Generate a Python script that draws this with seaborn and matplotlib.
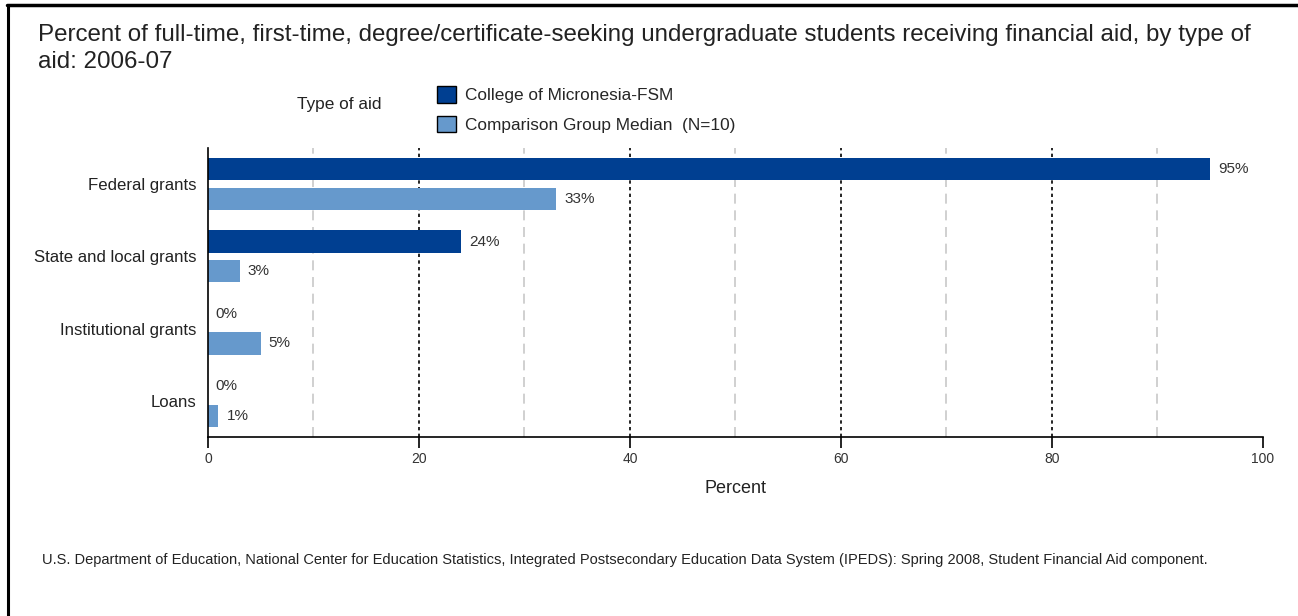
import matplotlib.pyplot as plt
import pandas as pd
import seaborn as sns
from matplotlib.lines import Line2D
from matplotlib.patches import Patch

aid_types = ["Federal grants", "State and local grants", "Institutional grants", "Loans"]
groups = ["College of Micronesia-FSM", "Comparison Group Median  (N=10)"]
college = [95, 24, 0, 0]
comparison = [33, 3, 5, 1]
colors = ["#003f91", "#6699cc"]

title = ("Percent of full-time, first-time, degree/certificate-seeking undergraduate students "
         "receiving financial aid, by type of\naid: 2006-07")
footer = ("U.S. Department of Education, National Center for Education Statistics, Integrated "
          "Postsecondary Education Data System (IPEDS): Spring 2008, Student Financial Aid component.")

df = pd.DataFrame({
    "aid": aid_types * 2,
    "group": [groups[0]] * len(aid_types) + [groups[1]] * len(aid_types),
    "value": college + comparison,
})

sns.set_style("white")
plt.rcParams["font.family"] = ["Liberation Sans", "DejaVu Sans"]

fig = plt.figure(figsize=(12.98, 6.16), dpi=100)
ax = fig.add_axes([0.1602, 0.2906, 0.8128, 0.4691])

sns.barplot(data=df, y="aid", x="value", hue="group", order=aid_types, hue_order=groups,
            palette=colors, orient="h", width=0.82, gap=0.25, legend=False, ax=ax,
            saturation=1, edgecolor="none")

ax.set_xlim(0, 100)
ax.set_ylim(3.5, -0.5)

# grid: dashed grey at odd tens, dotted black at 20s
for v in [10, 30, 50, 70, 90]:
    ax.axvline(v, color="#c8c8c8", lw=1.2, ls=(0, (6, 4)), zorder=0)
for v in [20, 40, 60, 80]:
    ax.axvline(v, color="black", lw=1.2, ls=(0, (2, 2)), zorder=0)

for c in ax.containers:
    for bar in c:
        w = bar.get_width()
        ax.text(w + 0.75, bar.get_y() + bar.get_height() / 2, f"{w:.0f}%",
                va="center", ha="left", fontsize=11, color="#333333")

ax.set_xticks([0, 20, 40, 60, 80, 100])
ax.tick_params(axis="x", length=8, width=1.2, color="black", labelsize=10,
               labelcolor="#333333", pad=3, direction="out", bottom=True)
ax.tick_params(axis="y", length=0, labelsize=12.1, labelcolor="#222222", pad=8)
ax.set_xlabel("Percent", fontsize=13, color="#222222", labelpad=10)
ax.set_ylabel("")

for s in ["top", "right"]:
    ax.spines[s].set_visible(False)
for s in ["left", "bottom"]:
    ax.spines[s].set_color("black")
    ax.spines[s].set_linewidth(1.2)

fig.text(38 / 1298, 1 - 24 / 616, title, fontsize=17.4, va="top", ha="left",
         color="#222222", linespacing=1.3)

fig.text(297 / 1298, 1 - 104 / 616, "Type of aid", fontsize=12.4, va="center",
         ha="left", color="#222222")
handles = [Patch(facecolor=col, edgecolor="black", lw=1) for col in colors]
fig.legend(handles, groups, loc="upper left", bbox_to_anchor=(437 / 1298, 1 - 86 / 616),
           frameon=False, fontsize=12.4, handlelength=1.1, handleheight=1.1,
           handletextpad=0.5, labelspacing=0.72, borderaxespad=0, borderpad=0)

fig.text(42 / 1298, 1 - 560 / 616, footer, fontsize=10.5, va="center", ha="left",
         color="#222222")

# outer frame on the left and top
fig.add_artist(Line2D([8 / 1298, 8 / 1298], [0, 1 - 5 / 616], color="black", lw=2.2,
                      transform=fig.transFigure))
fig.add_artist(Line2D([7 / 1298, 1], [1 - 5 / 616, 1 - 5 / 616], color="black", lw=2.5,
                      transform=fig.transFigure))

fig.savefig("out.png", dpi=100)
